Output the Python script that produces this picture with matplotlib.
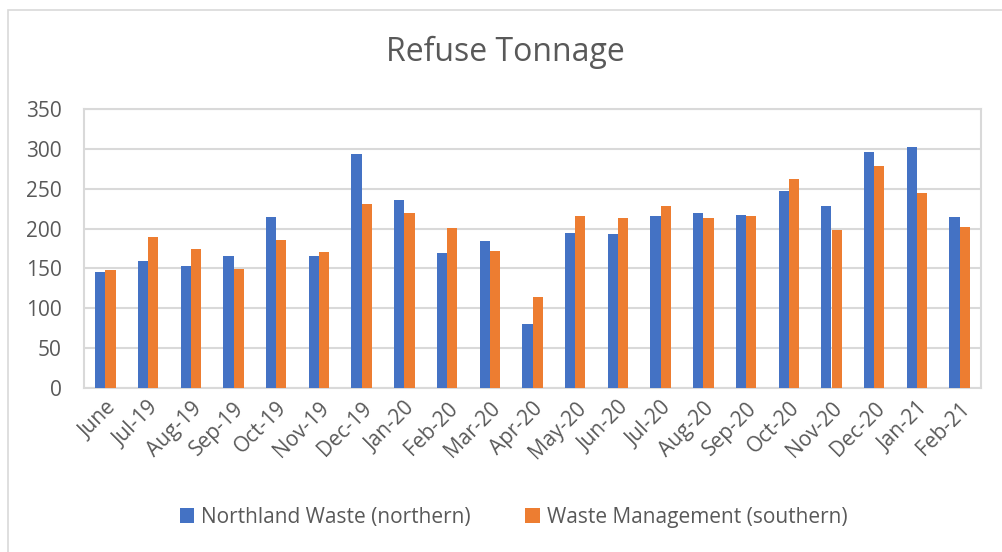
import matplotlib.pyplot as plt
import numpy as np
from matplotlib.patches import Rectangle

months = ["June", "Jul-19", "Aug-19", "Sep-19", "Oct-19", "Nov-19", "Dec-19",
          "Jan-20", "Feb-20", "Mar-20", "Apr-20", "May-20", "Jun-20", "Jul-20",
          "Aug-20", "Sep-20", "Oct-20", "Nov-20", "Dec-20", "Jan-21", "Feb-21"]
northland = [145, 159, 153, 166, 214, 165, 293, 236, 169, 185, 80, 195,
             193, 216, 220, 217, 247, 228, 296, 302, 215]
waste_mgmt = [148, 189, 174, 149, 186, 170, 231, 219, 201, 172, 114, 216,
              213, 228, 213, 216, 262, 198, 279, 244, 202]

BLUE = "#4472C4"
ORANGE = "#ED7D31"
GRID = "#D9D9D9"
TEXT = "#595959"

plt.rcParams["font.family"] = ["Open Sans", "DejaVu Sans"]

fig = plt.figure(figsize=(10.02, 5.52), dpi=100)
# chart area frame
fig.patches.append(Rectangle((8 / 1002, -0.1), 1.2, 1 - 10 / 552 + 0.1,
                             transform=fig.transFigure, fill=False,
                             edgecolor=GRID, linewidth=1.2))

ax = fig.add_axes((84 / 1002, 1 - 388 / 552, 897 / 1002, 279 / 552))
x = np.arange(len(months))
w = 0.24
ax.bar(x - w / 2, northland, w, color=BLUE, label="Northland Waste (northern)", zorder=3)
ax.bar(x + w / 2, waste_mgmt, w, color=ORANGE, label="Waste Management (southern)", zorder=3)

ax.set_xlim(-0.5, len(months) - 0.5)
ax.set_ylim(0, 350)
ax.set_yticks(range(0, 351, 50))
ax.grid(axis="y", color=GRID, linewidth=1.5, zorder=0)
for s in ax.spines.values():
    s.set_color(GRID)
    s.set_linewidth(1.5)
ax.tick_params(length=0, colors=TEXT, labelsize=15)
ax.tick_params(axis="y", pad=16)
ax.tick_params(axis="x", pad=7)
ax.set_xticks(x)
ax.set_xticklabels(months, rotation=45, ha="right", rotation_mode="anchor")

fig.text(0.504, 1 - 52 / 552, "Refuse Tonnage", ha="center", va="center",
         fontsize=23, color=TEXT)
ax.legend(loc="center", bbox_to_anchor=(0.479, (388 - 517) / 279), ncol=2,
          frameon=False, fontsize=15, labelcolor=TEXT, handlelength=0.7,
          handleheight=0.7, columnspacing=2.6, handletextpad=0.35)

fig.savefig("out.png", dpi=100)
